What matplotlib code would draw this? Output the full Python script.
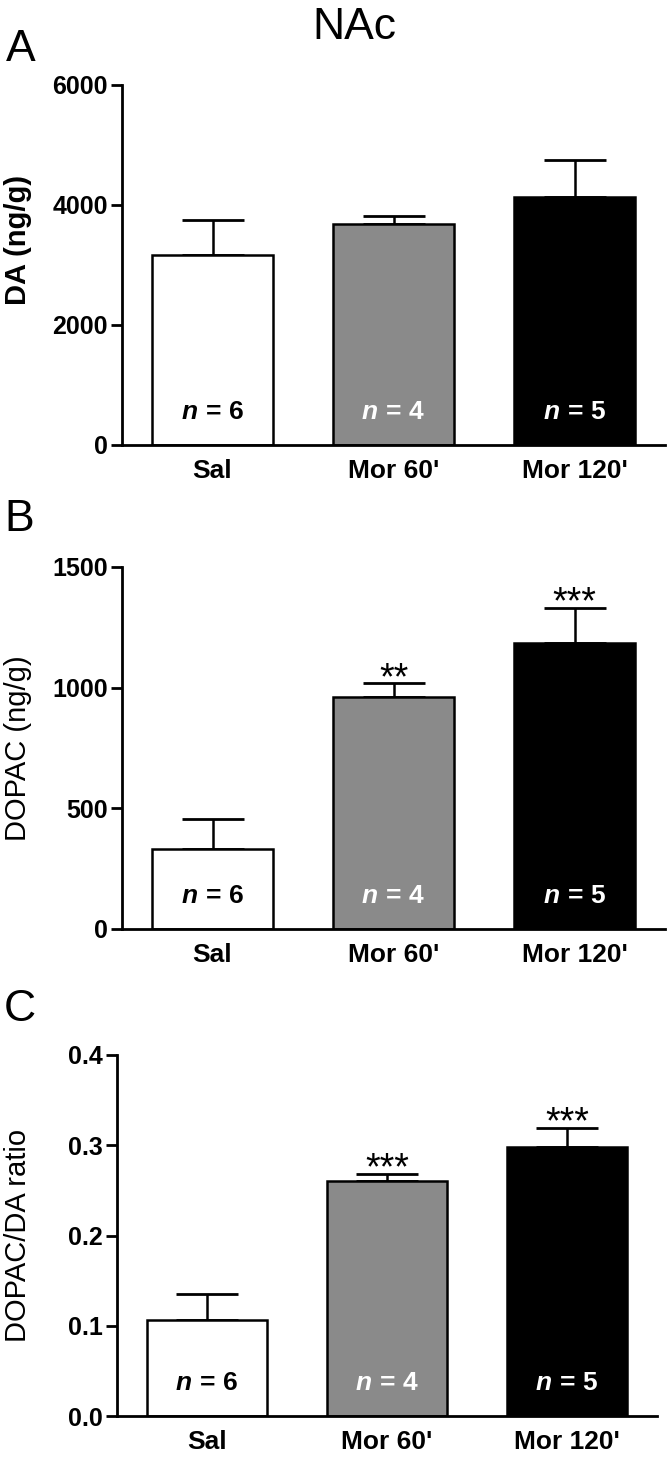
import matplotlib
matplotlib.use("Agg")
import matplotlib.pyplot as plt

plt.rcParams['font.family'] = ['Liberation Sans', 'DejaVu Sans']
plt.rcParams['mathtext.fontset'] = 'custom'
plt.rcParams['mathtext.rm'] = 'Liberation Sans'
plt.rcParams['mathtext.bf'] = 'Liberation Sans:bold'
plt.rcParams['mathtext.it'] = 'Liberation Sans:italic'
plt.rcParams['mathtext.bfit'] = 'Liberation Sans:bold:italic'

# -----------------------------
# DATA
# -----------------------------
groups = ["Sal", "Mor 60'", "Mor 120'"]
n_per_group = [6, 4, 5]

da_mean = [3170, 3685, 4140]
da_sem = [575, 135, 615]

dopac_mean = [330, 960, 1187]
dopac_sem = [127, 58, 143]

ratio_mean = [0.106, 0.260, 0.298]
ratio_sem = [0.029, 0.008, 0.021]

dopac_stars = ["", "**", "***"]
ratio_stars = ["", "***", "***"]

bar_colors = ["white", "#8a8a8a", "black"]
n_colors = ["black", "white", "white"]

W, H = 670, 1460
fig = plt.figure(figsize=(W / 100, H / 100), dpi=100)


def px_axes(left, right, top, bottom):
    return fig.add_axes([left / W, 1 - bottom / H, (right - left) / W, (bottom - top) / H])


def draw_panel(ax, mean, sem, stars, ylim, yticks, ylabel, ylabel_bold, label_xy, fmt):
    x = range(len(groups))
    ax.bar(x, mean, width=0.67, color=bar_colors, edgecolor="black", linewidth=1.8, zorder=2)
    ax.errorbar(x, mean, yerr=[[0] * len(sem), sem], fmt="none", ecolor="black",
                elinewidth=1.8, capsize=22, capthick=2, zorder=1)
    ax.set_xlim(-0.5, 2.5)
    ax.set_ylim(*ylim)
    ax.set_yticks(yticks)
    ax.set_yticklabels([fmt(v) for v in yticks], fontsize=18, fontweight="bold")
    ax.set_xticks(list(x))
    ax.set_xticklabels(groups, fontsize=19, fontweight="bold")
    ax.tick_params(axis="x", length=0, pad=10)
    ax.tick_params(axis="y", length=8, width=2, pad=2)
    for s in ["top", "right"]:
        ax.spines[s].set_visible(False)
    for s in ["left", "bottom"]:
        ax.spines[s].set_linewidth(2)
    ax.set_ylabel(ylabel, fontsize=21, fontweight="bold" if ylabel_bold else "normal")
    ax.yaxis.set_label_coords(*label_xy)

    for i in x:
        ax.text(i, 0.092, r"$\mathbfit{n}\mathbf{\,=\,%d}$" % n_per_group[i],
                transform=ax.get_xaxis_transform(), ha="center", va="center",
                fontsize=19, color=n_colors[i])
        if stars[i]:
            ax.annotate(stars[i], xy=(i, mean[i] + sem[i]), xytext=(0, -4),
                        textcoords="offset points", ha="center", va="baseline", fontsize=27)


# A: DA
axA = px_axes(122, 665, 85, 445)
draw_panel(axA, da_mean, da_sem, ["", "", ""], (0, 6000), [0, 2000, 4000, 6000],
           "DA (ng/g)", True, (-0.165, 0.57), lambda v: "%d" % v)

# B: DOPAC
axB = px_axes(122, 665, 567, 929)
draw_panel(axB, dopac_mean, dopac_sem, dopac_stars, (0, 1500), [0, 500, 1000, 1500],
           "DOPAC (ng/g)", False, (-0.165, 0.5), lambda v: "%d" % v)

# C: ratio
axC = px_axes(117, 657, 1055, 1416)
draw_panel(axC, ratio_mean, ratio_sem, ratio_stars, (0, 0.4), [0.0, 0.1, 0.2, 0.3, 0.4],
           "DOPAC/DA ratio", False, (-0.157, 0.5), lambda v: "%.1f" % v)

fig.text(354 / W, 1 - 39 / H, "NAc", ha="center", va="baseline", fontsize=32)
fig.text(6 / W, 1 - 61 / H, "A", ha="left", va="baseline", fontsize=32)
fig.text(4 / W, 1 - 531 / H, "B", ha="left", va="baseline", fontsize=32)
fig.text(4 / W, 1 - 1021 / H, "C", ha="left", va="baseline", fontsize=32)

fig.savefig("out.png", dpi=100)
plt.close(fig)
